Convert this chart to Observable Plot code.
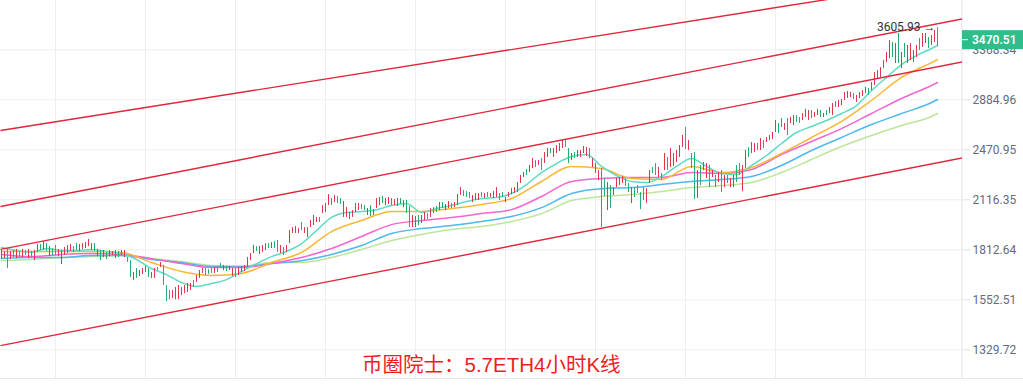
<!DOCTYPE html>
<html><head><meta charset="utf-8">
<script src="https://cdn.jsdelivr.net/npm/d3@7"></script>
<script src="https://cdn.jsdelivr.net/npm/@observablehq/plot@0.6"></script>
<style>
html,body{margin:0;padding:0;background:#fff;}
#wrap{position:relative;width:1023px;height:385px;overflow:hidden;background:#fff;}
#wrap svg{display:block;border-bottom:1px solid #e6e8eb;}
</style></head><body><div id="wrap"></div>
<script>
// ---- candle data (4h ETH, low/high per candle, G = up / R = down) ----
const highs = [
1809,1803,1815,1803,1809,1815,1803,1815,1809,1815,
1803,1809,1843,1843,1860,1848,1831,1820,1837,1815,
1809,1826,1837,1843,1831,1848,1843,1848,1854,1872,
1848,1848,1815,1809,1809,1798,1809,1803,1809,1803,
1809,1809,1770,1753,1690,1711,1700,1711,1722,1711,
1690,1711,1716,1743,1727,1623,1598,1598,1613,1623,
1613,1623,1633,1633,1648,1674,1700,1711,1711,1705,
1711,1716,1722,1737,1727,1722,1722,1711,1711,1716,
1722,1727,1770,1792,1837,1831,1831,1837,1848,1848,
1854,1860,1866,1837,1826,1837,1924,1942,1948,1936,
1973,1942,1942,1985,2016,2004,2004,2079,2092,2151,
2125,2145,2138,2125,2105,2066,2035,2047,2092,2092,
2086,2079,2060,2079,2053,2125,2132,2138,2125,2132,
2125,2118,2125,2125,2112,2112,2073,2016,2010,2016,
2016,2035,2028,2060,2066,2073,2099,2099,2086,2105,
2092,2099,2151,2198,2178,2171,2165,2145,2158,2158,
2165,2158,2165,2158,2171,2198,2158,2165,2132,2165,
2191,2198,2233,2282,2303,2325,2354,2405,2390,2390,
2405,2450,2481,2481,2481,2504,2520,2543,2551,2481,
2443,2450,2466,2466,2496,2489,2481,2405,2368,2317,
2332,2261,2233,2212,2198,2261,2268,2275,2261,2226,
2198,2198,2212,2165,2198,2191,2317,2339,2368,2339,
2296,2443,2413,2481,2443,2466,2504,2583,2647,2543,
2443,2450,2317,2354,2376,2368,2354,2317,2282,2303,
2317,2282,2282,2261,2282,2354,2368,2354,2466,2489,
2527,2520,2520,2559,2543,2567,2583,2607,2706,2681,
2723,2681,2723,2731,2748,2748,2731,2765,2799,2791,
2791,2774,2799,2791,2765,2791,2817,2852,2870,2879,
2888,2951,2960,2951,2942,2924,2951,2969,2997,2988,
3044,3140,3159,3188,3258,3341,3467,3446,3435,3543,
3341,3435,3414,3435,3361,3414,3488,3543,3543,3499,
3521,3576,3605.93];
const lows = [
1759,1764,1711,1759,1770,1764,1775,1770,1781,1764,
1770,1753,1798,1809,1809,1803,1775,1781,1781,1775,
1732,1781,1792,1803,1798,1809,1803,1815,1820,1831,
1809,1803,1775,1753,1770,1759,1775,1781,1764,1770,
1781,1770,1743,1664,1648,1659,1669,1679,1690,1664,
1659,1659,1700,1716,1623,1544,1553,1558,1553,1553,
1573,1583,1588,1598,1613,1638,1659,1685,1674,1679,
1685,1685,1690,1711,1700,1695,1700,1669,1664,1674,
1690,1695,1716,1753,1792,1803,1787,1798,1809,1820,
1820,1820,1798,1792,1781,1798,1848,1907,1907,1907,
1924,1907,1883,1942,1954,1973,1973,2028,2035,2079,
2079,2099,2092,2086,2004,2004,1991,2004,2035,2047,
2053,2047,2016,2010,2016,2060,2079,2092,2079,2086,
2079,2079,2073,2086,2066,2028,1942,1942,1942,1954,
1967,1985,1991,2004,2028,2035,2047,2060,2047,2060,
2060,2066,2079,2145,2138,2132,2125,2099,2112,2112,
2132,2125,2132,2132,2125,2132,2112,2132,2099,2132,
2151,2158,2165,2226,2268,2282,2303,2332,2339,2354,
2317,2368,2413,2443,2413,2443,2458,2481,2489,2368,
2390,2405,2413,2413,2443,2420,2405,2339,2296,2247,
1942,2138,2047,2060,2145,2198,2212,2226,2205,2165,
2092,2132,2158,2053,2112,2092,2226,2296,2282,2268,
2247,2317,2317,2339,2347,2376,2413,2489,2473,2466,
2332,2118,2125,2212,2317,2261,2198,2268,2198,2233,
2165,2198,2226,2198,2198,2233,2282,2171,2332,2413,
2443,2450,2466,2466,2481,2527,2543,2551,2607,2599,
2647,2623,2583,2681,2664,2689,2681,2706,2731,2706,
2723,2731,2748,2731,2731,2748,2765,2748,2817,2817,
2834,2879,2897,2906,2888,2861,2897,2915,2942,2924,
2969,3016,3082,3092,3178,3238,3279,3289,3228,3228,
3178,3289,3228,3258,3238,3289,3361,3393,3435,3382,
3414,3446,3403];
const dirs = [
"RRGRGRGRGR","GRRGRGRGGR","RRRRGGRRRR","RGRGRGRRRG","RRGGRGRRRG",
"RRGRGGGRRR","RRRRGRRRGG","GRGGRGRRGR","RRRRRGRRRG","RGGRGRRRRR",
"GRRRRRGRRR","GRGGRRRRRR","GGRGRRRGRR","GRRGRGGRRG","RRGRGGRGRR",
"GRRRGGGRRR","GRGRRRGGRR","RRRRRGRRGR","GRRGRRRRGG","RGRRRRGRRR",
"GGRGRRRRGG","RGGGGRRGGR","GRGRRRRRGR","GGRGRRGRGR","GRGRRGGRRG",
"RRGRGRRRRG","GRGRRGGRRR","GRRGRGRRGR","RRRRGRRRRG","RRRRRRRGRG",
"RGRRRRGRRG","RRG"].join("");

// ---- moving averages (teal sampled every 5 candles, others every 10; last point = last candle) ----
const maTeal = [
1826,1809,1798,1820,1809,1809,1815,1803,1792,1759,
1711,1679,1638,1618,1633,1653,1695,1737,1775,1803,
1848,1924,2004,2035,2041,2053,2079,2092,2035,2060,
2079,2105,2125,2132,2158,2219,2303,2368,2420,2435,
2347,2282,2240,2233,2275,2347,2405,2347,2296,2289,
2354,2428,2520,2607,2656,2706,2765,2834,2969,3092,
3218,3309,3382,3414];
const maOrange = [
1803,1803,1803,1803,1798,1743,1695,1674,1685,1743,
1798,1918,1985,2041,2041,2060,2086,2125,2240,2347,
2332,2261,2254,2347,2303,2339,2443,2567,2698,2879,
3092,3238,3268];
const maPink = [
1787,1775,1787,1792,1787,1764,1737,1716,1716,1737,
1770,1820,1889,1960,1985,2004,2028,2053,2138,2240,
2261,2268,2268,2303,2296,2325,2435,2535,2639,2765,
2897,3016,3044];
const maBlue = [
1764,1770,1770,1781,1781,1759,1743,1722,1722,1737,
1753,1787,1837,1907,1936,1954,1979,2010,2066,2158,
2191,2198,2219,2240,2254,2275,2354,2466,2567,2672,
2765,2861,2888];
const maGreen = [
1753,1759,1770,1775,1781,1764,1748,1727,1722,1743,
1743,1770,1815,1866,1901,1930,1948,1979,2028,2112,
2138,2151,2171,2198,2212,2233,2303,2398,2496,2583,
2664,2740,2765];

// ---- channel lines: value at left edge / right edge ----
const channelLeft  = [2623, 2073, 1815, 1347.5];
const channelRight = [4207, 3706.7, 3244, 2409.6];

// ---- axis ticks / labels ----
const yTicks = [1329.72, 1552.51, 1812.64, 2116.35, 2470.95, 2884.96, 3368.34];
const dayLines = [18, 48, 78, 108, 138, 168, 198, 228, 258, 288];
const lastPrice = 3470.51;
const highMark = 3605.93;
const caption = "币圈院士：5.7ETH4小时K线";

const RED = "#e0354a", GREEN = "#26ad76";
const n = highs.length;
const candles = highs.map((h, i) => ({i, high: h, low: lows[i], color: dirs[i] === "G" ? GREEN : RED}));
const idx = (arr, step) => arr.map((_, k) => k === arr.length - 1 ? n - 1 : k * step);
const xDomain = [-1 / 3, 320.3333];
const yDomain = [1216.8, 3924.2];
const channels = channelLeft.map((v, k) => ({a: v, b: channelRight[k]}));

function ma(arr, step, color) {
  const xs = idx(arr, step);
  return Plot.line(arr, {x: (d, k) => xs[k], y: d => d, stroke: color, strokeWidth: 1.5, curve: "monotone-x"});
}

const chart = Plot.plot({
  width: 1023, height: 378,
  marginLeft: 0, marginRight: 61, marginTop: 0, marginBottom: 0,
  style: {background: "#fff", fontFamily: "Roboto, sans-serif"},
  x: {domain: xDomain, axis: null},
  y: {type: "log", domain: yDomain, label: null},
  marks: [
    Plot.gridX(dayLines, {stroke: "#eceef1", strokeOpacity: 1}),
    Plot.gridY(yTicks, {stroke: "#eceef1", strokeOpacity: 1}),
    Plot.ruleX([xDomain[1]], {stroke: "#e1e3e8", dx: -0.5}),
    Plot.axisY(yTicks, {anchor: "right", tickFormat: d => d.toFixed(2), tickSize: 7, tickPadding: 3,
      fontSize: 12, stroke: "#dcdfe4", fill: "#656b7a", fontFamily: "Roboto"}),
    ma(maGreen, 10, "#bde59a"),
    ma(maBlue, 10, "#4fb8ec"),
    ma(maPink, 10, "#f266cf"),
    ma(maOrange, 10, "#fbb733"),
    ma(maTeal, 5, "#5edbc3"),
    Plot.ruleX(candles, {x: "i", y1: "low", y2: "high", stroke: "color", strokeWidth: 1}),
    Plot.link(channels, {x1: () => xDomain[0], x2: () => xDomain[1], y1: "a", y2: "b",
      stroke: "#e0263b", strokeWidth: 1.4, clip: true}),
    Plot.text([{i: n - 1, v: highMark}], {x: "i", y: "v", text: d => d.v.toFixed(2) + " →",
      textAnchor: "end", dx: -2, dy: -1, fontSize: 12, fill: "#333", fontFamily: "Roboto"})
  ]
});

const svg = d3.select(chart);
const yS = chart.scale("y");
const py = yS.apply(lastPrice);
svg.append("rect").attr("x", 962).attr("y", py - 9.5).attr("width", 61).attr("height", 19).attr("fill", "#2fbd8a");
svg.append("line").attr("x1", 962).attr("x2", 968).attr("y1", py).attr("y2", py).attr("stroke", "#fff");
svg.append("text").attr("x", 972).attr("y", py).attr("dy", "0.35em").attr("fill", "#fff")
  .attr("text-anchor", "start")
  .attr("font-size", 12).attr("font-weight", 600).attr("font-family", "Roboto").text(lastPrice.toFixed(2));
svg.append("text").attr("x", 362).attr("y", 372).attr("fill", "#f01d1d")
  .attr("text-anchor", "start")
  .attr("font-size", 20.5).attr("font-family", "Arial, 'Liberation Sans', 'Noto Sans CJK SC', sans-serif").text(caption);

document.getElementById("wrap").appendChild(chart);
</script></body></html>
